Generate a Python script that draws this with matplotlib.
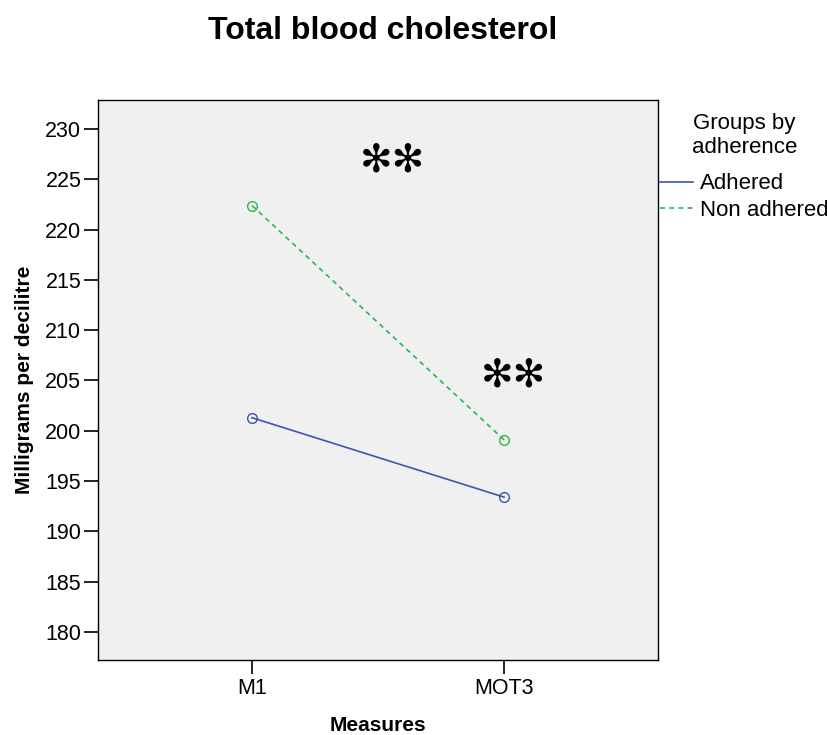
import matplotlib
matplotlib.use('Agg')
import matplotlib.pyplot as plt

plt.rcParams['font.family'] = ['Liberation Sans', 'DejaVu Sans']

measures = ['M1', 'MOT3']
adhered = [201.3, 193.4]
non_adhered = [222.4, 199.1]

fig = plt.figure(figsize=(8.27, 7.35), dpi=100)
ax = fig.add_axes([0.1185, 0.102, 0.6772, 0.762])
ax.set_facecolor('#f0f0f0')

x = range(len(measures))
ax.plot(x, adhered, color='#3e56ad', lw=1.2, marker='o', ms=7,
        mfc='none', mec='#3e56ad')
ax.plot(x, non_adhered, color='#2cb84a', lw=1.2, ls=(0, (3, 2.5)), marker='o', ms=7,
        mfc='none', mec='#2cb84a')
# legend handles are plain lines, no markers
ax.plot([], [], color='#3e56ad', lw=1.2, label='Adhered')
ax.plot([], [], color='#2cb84a', lw=1.2, ls=(0, (3, 2.5)), label='Non adhered')

ax.set_xlim(-0.611, 1.611)
ax.set_ylim(177.2, 232.9)
ax.set_xticks(list(x))
ax.set_xticklabels(measures)
ax.set_yticks(range(180, 231, 5))
ax.tick_params(labelsize=15.5, length=10, width=1.2)
ax.tick_params(axis='x', pad=3)
ax.tick_params(axis='y', pad=2)
for s in ax.spines.values():
    s.set_linewidth(1)

ax.text(0.556, 226.9, '✻✻', fontsize=28, ha='center', va='center', family='DejaVu Sans')
ax.text(1.036, 205.45, '✻✻', fontsize=28, ha='center', va='center', family='DejaVu Sans')

ax.set_xlabel('Measures', fontsize=15, fontweight='bold', labelpad=12)
ax.set_ylabel('Milligrams per decilitre', fontsize=15, fontweight='bold', labelpad=8)
fig.text(0.463, 0.958, 'Total blood cholesterol', fontsize=23, fontweight='bold',
         ha='center', va='center')

leg = fig.legend(title='Groups by\nadherence', loc='upper left',
                 bbox_to_anchor=(660 / 827, 1 - 113 / 735),
                 frameon=False, fontsize=16, title_fontsize=16, handlelength=1.5,
                 handletextpad=0.3, labelspacing=0.25, borderpad=0, borderaxespad=0)
leg._legend_box.align = 'center'
leg._legend_box.sep = 11
leg.get_title().set_multialignment('center')

fig.savefig('out.png', dpi=100)
